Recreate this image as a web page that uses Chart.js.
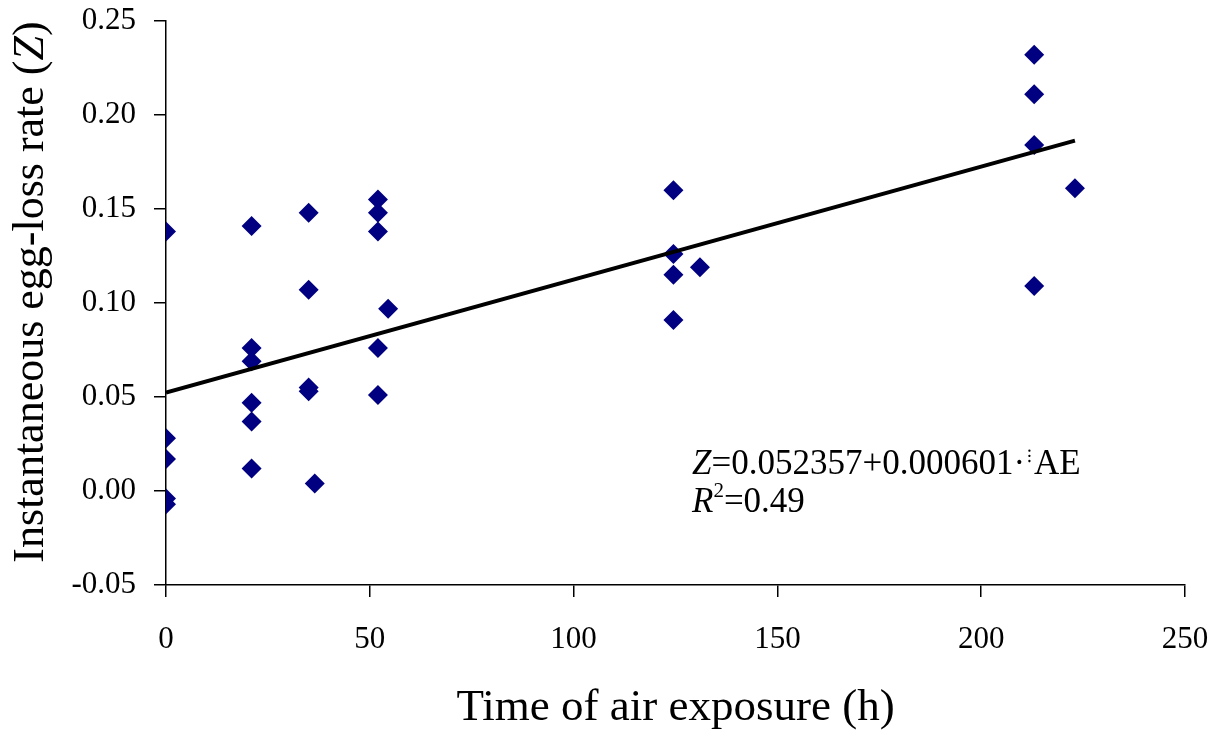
<!DOCTYPE html>
<html>
<head>
<meta charset="utf-8">
<script src="https://cdn.jsdelivr.net/npm/chart.js@4"></script>
<style>
  body { margin: 0; background: #fff; }
  canvas { display: block; }
</style>
</head>
<body>
<canvas id="eggLossChart" width="1223" height="731"></canvas>
<script>
// hours of air exposure, one entry per observation
const exposureHours = [0, 0, 0, 0, 0,
  21, 21, 21, 21, 21, 21,
  35, 35, 35, 35, 36.5,
  52, 52, 52, 52, 52, 54.5,
  124.5, 124.5, 124.5, 124.5, 131,
  213, 213, 213, 213, 223];
// instantaneous egg-loss rate Z
const eggLossRate = [0.138, 0.028, 0.017, -0.004, -0.007,
  0.141, 0.076, 0.069, 0.047, 0.037, 0.012,
  0.148, 0.107, 0.055, 0.053, 0.004,
  0.155, 0.148, 0.138, 0.076, 0.051, 0.097,
  0.160, 0.126, 0.115, 0.091, 0.119,
  0.232, 0.211, 0.184, 0.109, 0.161];
// regression line end points
const trendHours = [0, 223];
const trendRate = [0.0524, 0.1864];

const xTicks = [0, 50, 100, 150, 200, 250];
const yTicks = [-0.05, 0, 0.05, 0.10, 0.15, 0.20, 0.25];

const serif = "'Liberation Serif', 'Times New Roman', serif";

const textPlugin = {
  id: 'textPlugin',
  afterDraw(chart) {
    const ctx = chart.ctx;
    ctx.save();
    ctx.fillStyle = '#000';
    ctx.textBaseline = 'middle';

    // y axis title with italic Z
    const normal = '44px ' + serif;
    const italic = 'italic 44px ' + serif;
    const parts = [['Instantaneous egg-loss rate (', normal], ['Z', italic], [')', normal]];
    let total = 0;
    parts.forEach(p => { ctx.font = p[1]; total += ctx.measureText(p[0]).width; });
    ctx.translate(31, 292);
    ctx.rotate(-Math.PI / 2);
    let pos = -total / 2;
    ctx.textAlign = 'left';
    parts.forEach(p => {
      ctx.font = p[1];
      ctx.fillText(p[0], pos, 0);
      pos += ctx.measureText(p[0]).width;
    });
    ctx.restore();

    // equation
    ctx.save();
    ctx.fillStyle = '#000';
    ctx.textBaseline = 'alphabetic';
    ctx.textAlign = 'left';
    let x = 692;
    ctx.font = 'italic 35px ' + serif;
    ctx.fillText('Z', x, 474);
    x += ctx.measureText('Z').width;
    ctx.font = '35px ' + serif;
    const eq = '=0.052357+0.000601·';
    ctx.fillText(eq, x, 474);
    x += ctx.measureText(eq).width + 2;
    ctx.font = '18px ' + serif;
    ctx.fillText('⁝', x, 462);
    x += ctx.measureText('⁝').width + 2;
    ctx.font = '35px ' + serif;
    ctx.fillText('AE', x, 474);

    x = 692;
    ctx.font = 'italic 35px ' + serif;
    ctx.fillText('R', x, 512);
    x += ctx.measureText('R').width;
    ctx.font = '21px ' + serif;
    ctx.fillText('2', x, 497);
    x += ctx.measureText('2').width;
    ctx.font = '35px ' + serif;
    ctx.fillText('=0.49', x, 512);
    ctx.restore();
  }
};

const points = exposureHours.map((h, i) => ({ x: h, y: eggLossRate[i] }));
const trend = trendHours.map((h, i) => ({ x: h, y: trendRate[i] }));

new Chart(document.getElementById('eggLossChart'), {
  type: 'scatter',
  data: {
    datasets: [
      {
        label: 'Regression',
        data: trend,
        showLine: true,
        borderColor: '#000',
        borderWidth: 4,
        pointRadius: 0,
        order: 0
      },
      {
        label: 'Observed',
        data: points,
        pointStyle: 'rectRot',
        pointRadius: 10,
        backgroundColor: '#000080',
        borderColor: '#000080',
        borderWidth: 0,
        order: 1
      }
    ]
  },
  options: {
    responsive: false,
    animation: false,
    layout: { padding: { top: 21, right: 38, left: 0, bottom: 0 } },
    plugins: {
      legend: { display: false },
      tooltip: { enabled: false }
    },
    scales: {
      x: {
        type: 'linear',
        min: 0,
        max: 250,
        afterBuildTicks: (scale) => { scale.ticks = xTicks.map(v => ({ value: v })); },
        afterFit: (scale) => {
          scale.height = 146;
          scale.paddingLeft = 0;
          scale.paddingRight = 0;
        },
        border: { display: true, color: '#000', width: 1.5 },
        grid: { drawOnChartArea: false, drawTicks: true, tickLength: 12, color: '#000', lineWidth: 1.5 },
        ticks: {
          color: '#000',
          padding: 24,
          maxRotation: 0,
          font: { family: serif, size: 31 },
          callback: (v) => String(v)
        },
        title: {
          display: true,
          text: 'Time of air exposure (h)',
          color: '#000',
          font: { family: serif, size: 45, lineHeight: 1 },
          padding: { top: 0, bottom: 0 }
        }
      },
      y: {
        type: 'linear',
        min: -0.05,
        max: 0.25,
        afterBuildTicks: (scale) => { scale.ticks = yTicks.map(v => ({ value: v })); },
        afterFit: (scale) => {
          scale.width = 166;
          scale.paddingTop = 0;
          scale.paddingBottom = 0;
        },
        border: { display: true, color: '#000', width: 1.5 },
        grid: { drawOnChartArea: false, drawTicks: true, tickLength: 12, color: '#000', lineWidth: 1.5 },
        ticks: {
          color: '#000',
          padding: 18,
          font: { family: serif, size: 31 },
          callback: (v) => Number(v).toFixed(2)
        }
      }
    }
  },
  plugins: [textPlugin]
});
</script>
</body>
</html>
